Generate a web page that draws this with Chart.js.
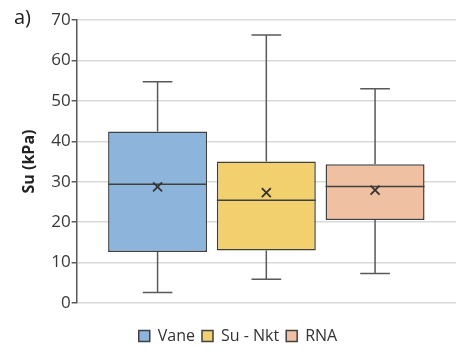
<!DOCTYPE html>
<html>
<head>
<meta charset="utf-8">
<script src="https://cdn.jsdelivr.net/npm/chart.js@4"></script>
<style>
  html, body { margin: 0; padding: 0; background: #fff; }
  #wrap { position: relative; width: 457px; height: 354px; }
  #panel { position: absolute; left: 14px; top: 3px; font: 20px "Open Sans", sans-serif; color: #222; }
</style>
</head>
<body>
<div id="wrap">
  <canvas id="chart" width="457" height="354"></canvas>
  <div id="panel">a)</div>
</div>
<script>
// ── Dados (Su em kPa) ──────────────────────────────────────────────────────
const SERIES   = ['Vane', 'Su - Nkt', 'RNA'];
const COLORS   = ['#8db5dc', '#f2d06e', '#f0c0a2'];
const WHISK_LO = [2.6, 5.9, 7.3];
const Q1       = [12.6, 13.0, 20.5];
const MEDIAN   = [29.4, 25.4, 28.8];
const Q3       = [42.4, 35.0, 34.3];
const WHISK_HI = [54.7, 66.3, 53.0];
const MEAN     = [28.7, 27.3, 27.9];
const Y_TICKS  = [0, 10, 20, 30, 40, 50, 60, 70];

const LINE = '#595959';

// Bigodes, mediana e média desenhados por cima das barras flutuantes (Q1–Q3)
const boxExtras = {
  id: 'boxExtras',
  afterDatasetsDraw(chart) {
    const { ctx, scales: { y } } = chart;
    ctx.save();
    SERIES.forEach((_, i) => {
      const bar = chart.getDatasetMeta(i).data[0];
      if (!bar) return;
      const x = bar.x, half = bar.width / 2, cap = bar.width * 0.15;
      const yLo = y.getPixelForValue(WHISK_LO[i]);
      const yHi = y.getPixelForValue(WHISK_HI[i]);
      const yQ1 = y.getPixelForValue(Q1[i]);
      const yQ3 = y.getPixelForValue(Q3[i]);
      const yMed = y.getPixelForValue(MEDIAN[i]);
      const yMean = y.getPixelForValue(MEAN[i]);

      ctx.strokeStyle = LINE;
      ctx.lineWidth = 1.5;
      ctx.beginPath();
      ctx.moveTo(x, yQ3); ctx.lineTo(x, yHi);
      ctx.moveTo(x - cap, yHi); ctx.lineTo(x + cap, yHi);
      ctx.moveTo(x, yQ1); ctx.lineTo(x, yLo);
      ctx.moveTo(x - cap, yLo); ctx.lineTo(x + cap, yLo);
      ctx.stroke();

      ctx.strokeStyle = '#404040';
      ctx.beginPath();
      ctx.moveTo(x - half, yMed); ctx.lineTo(x + half, yMed);
      ctx.stroke();

      const m = 4.5;
      ctx.strokeStyle = '#333';
      ctx.lineWidth = 1.8;
      ctx.beginPath();
      ctx.moveTo(x - m, yMean - m); ctx.lineTo(x + m, yMean + m);
      ctx.moveTo(x - m, yMean + m); ctx.lineTo(x + m, yMean - m);
      ctx.stroke();
    });
    ctx.restore();
  }
};

new Chart(document.getElementById('chart'), {
  type: 'bar',
  data: {
    labels: [''],
    datasets: SERIES.map((name, i) => ({
      label: name,
      data: [[Q1[i], Q3[i]]],
      backgroundColor: COLORS[i],
      borderColor: '#404040',
      borderWidth: 1.5,
      borderSkipped: false,
      categoryPercentage: 0.86,
      barPercentage: 0.91
    }))
  },
  options: {
    responsive: false,
    animation: false,
    layout: { padding: { left: 20, right: 1, top: 20, bottom: 0 } },
    plugins: {
      tooltip: { enabled: false },
      legend: {
        position: 'bottom',
        labels: {
          boxWidth: 11,
          boxHeight: 11,
          padding: 7,
          color: '#333',
          font: { family: 'Open Sans', size: 16 }
        }
      }
    },
    scales: {
      x: {
        display: true,
        grid: { display: false },
        border: { display: false },
        ticks: { display: false },
        afterFit: axis => { axis.height = 18; }
      },
      y: {
        min: 0,
        max: 70,
        afterBuildTicks: axis => { axis.ticks = Y_TICKS.map(v => ({ value: v })); },
        grid: { color: '#d9d9d9', lineWidth: 1.5, tickColor: LINE, tickLength: 5 },
        border: { color: LINE, width: 1.5 },
        ticks: { color: '#383838', padding: 1, font: { family: 'Open Sans', size: 17 } },
        title: {
          display: true,
          text: 'Su (kPa)',
          color: '#222',
          padding: { top: 0, bottom: 11 },
          font: { family: 'Open Sans', size: 16, weight: 'bold' }
        }
      }
    }
  },
  plugins: [boxExtras]
});
</script>
</body>
</html>
